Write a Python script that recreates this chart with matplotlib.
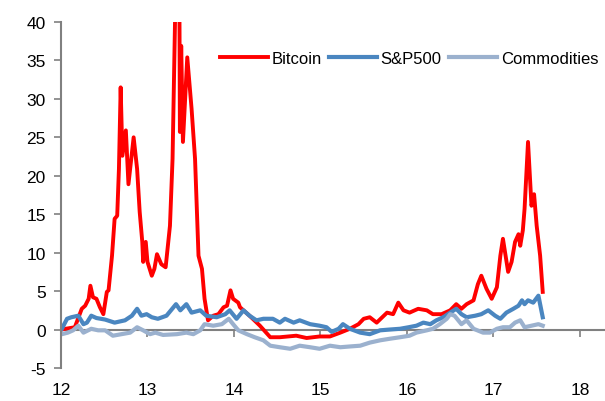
import numpy as np
import matplotlib
matplotlib.use('Agg')
import matplotlib.pyplot as plt

plt.rc('font', family='Liberation Sans', size=12.5)
plt.rc('axes', unicode_minus=False)

# Data (year, value)
btc_x = [12.00, 12.16, 12.24, 12.28, 12.32, 12.34, 12.37, 12.41, 12.45, 12.49, 12.53, 12.55,
         12.59, 12.62, 12.65, 12.67, 12.69, 12.71, 12.75, 12.78, 12.84, 12.88, 12.91, 12.94,
         12.95, 12.98, 13.00, 13.05, 13.08, 13.11, 13.16, 13.21, 13.26, 13.29, 13.32, 13.37,
         13.375, 13.39, 13.41, 13.46, 13.51, 13.55, 13.59, 13.63, 13.66, 13.70, 13.76, 13.82,
         13.88, 13.92, 13.96, 13.99, 14.05, 14.07, 14.18, 14.30, 14.42, 14.53, 14.72, 14.84,
         14.99, 15.11, 15.23, 15.34, 15.44, 15.50, 15.57, 15.65, 15.77, 15.84, 15.90, 15.96,
         16.03, 16.13, 16.23, 16.30, 16.40, 16.50, 16.57, 16.63, 16.69, 16.77, 16.82, 16.86,
         16.92, 16.98, 17.04, 17.08, 17.11, 17.17, 17.21, 17.25, 17.29, 17.31, 17.34, 17.36,
         17.40, 17.44, 17.47, 17.50, 17.54, 17.57]
btc_y = [0.0, 0.3, 2.7, 3.1, 4.0, 5.7, 4.2, 4.0, 2.9, 2.0, 4.9, 5.1,
         9.6, 14.4, 14.8, 20.9, 31.5, 22.6, 25.9, 18.9, 25.0, 20.9, 15.3, 11.4,
         8.8, 11.4, 8.8, 7.0, 7.9, 9.8, 8.5, 8.1, 13.5, 22.2, 41.0, 41.0,
         25.7, 36.9, 24.4, 35.4, 28.7, 22.2, 9.6, 7.9, 4.0, 1.2, 1.8, 2.0,
         2.9, 3.1, 5.1, 4.0, 3.5, 2.9, 1.8, 0.5, -1.0, -1.0, -0.8, -1.1,
         -0.9, -0.9, -0.4, 0.1, 0.7, 1.4, 1.6, 0.9, 2.2, 2.0, 3.5, 2.5,
         2.2, 2.7, 2.5, 2.0, 2.0, 2.5, 3.3, 2.7, 3.3, 3.8, 5.9, 7.0,
         5.3, 4.0, 5.5, 9.6, 11.8, 7.5, 8.8, 11.4, 12.4, 10.9, 12.9, 15.7,
         24.4, 16.1, 17.6, 13.5, 9.6, 4.9]

spx_x = [12.01, 12.07, 12.12, 12.20, 12.26, 12.30, 12.35, 12.41, 12.51, 12.62, 12.74, 12.82,
         12.88, 12.93, 12.99, 13.05, 13.12, 13.22, 13.33, 13.38, 13.45, 13.51, 13.61, 13.68,
         13.80, 13.90, 13.95, 14.03, 14.11, 14.18, 14.26, 14.34, 14.45, 14.53, 14.59, 14.69,
         14.76, 14.88, 14.99, 15.07, 15.13, 15.21, 15.26, 15.34, 15.46, 15.57, 15.69, 15.80,
         15.92, 16.02, 16.11, 16.19, 16.27, 16.34, 16.42, 16.50, 16.57, 16.63, 16.69, 16.79,
         16.86, 16.94, 17.02, 17.08, 17.15, 17.23, 17.29, 17.33, 17.36, 17.40, 17.46, 17.52,
         17.57]
spx_y = [0.1, 1.4, 1.6, 1.8, 0.7, 0.9, 1.8, 1.5, 1.3, 0.9, 1.2, 1.8,
         2.7, 1.8, 2.0, 1.6, 1.4, 1.8, 3.3, 2.5, 3.3, 2.2, 2.5, 1.8,
         1.6, 2.0, 2.5, 1.4, 2.5, 1.8, 1.2, 1.4, 1.4, 0.9, 1.4, 0.9,
         1.2, 0.7, 0.5, 0.3, -0.3, 0.1, 0.7, 0.1, -0.4, -0.6, -0.1, 0.0,
         0.1, 0.3, 0.5, 0.9, 0.7, 1.2, 1.6, 2.2, 2.7, 2.0, 1.6, 1.8,
         2.0, 2.5, 1.8, 1.4, 2.2, 2.7, 3.1, 3.8, 3.3, 3.8, 3.5, 4.4,
         1.6]

com_x = [12.01, 12.08, 12.14, 12.20, 12.26, 12.35, 12.43, 12.51, 12.60, 12.70, 12.80, 12.88,
         12.95, 13.03, 13.09, 13.18, 13.34, 13.45, 13.53, 13.61, 13.66, 13.76, 13.86, 13.94,
         13.99, 14.05, 14.15, 14.24, 14.34, 14.42, 14.53, 14.65, 14.76, 14.88, 14.99, 15.11,
         15.23, 15.34, 15.46, 15.57, 15.69, 15.80, 15.92, 16.03, 16.11, 16.23, 16.30, 16.38,
         16.46, 16.50, 16.55, 16.63, 16.69, 16.77, 16.88, 16.96, 17.04, 17.11, 17.19, 17.25,
         17.31, 17.36, 17.44, 17.52, 17.57]
com_y = [-0.6, -0.4, -0.1, 0.5, -0.4, 0.1, -0.1, -0.1, -0.8, -0.6, -0.4, 0.3,
         -0.1, -0.6, -0.4, -0.7, -0.6, -0.4, -0.6, -0.1, 0.7, 0.5, 0.7, 1.4,
         0.7, -0.1, -0.6, -1.0, -1.4, -2.1, -2.3, -2.5, -2.1, -2.3, -2.5, -2.1,
         -2.3, -2.2, -2.1, -1.7, -1.4, -1.2, -1.0, -0.8, -0.4, -0.1, 0.1, 0.7,
         1.4, 2.0, 1.8, 0.7, 1.2, 0.1, -0.4, -0.4, 0.1, 0.3, 0.3, 0.9,
         1.2, 0.3, 0.5, 0.7, 0.5]

x_ticks = [12, 13, 14, 15, 16, 17, 18]
y_ticks = [-5, 0, 5, 10, 15, 20, 25, 30, 35, 40]

fig = plt.figure(figsize=(6.05, 4.02), dpi=100)
ax = fig.add_axes([0.1008, 0.0821, 0.8992, 0.8607])

ax.plot(btc_x, btc_y, color='#FF0000', lw=2.8, label='Bitcoin', solid_joinstyle='round')
ax.plot(spx_x, spx_y, color='#4A86C0', lw=3.0, label='S&P500', solid_joinstyle='round')
ax.plot(com_x, com_y, color='#9BB1CE', lw=3.0, label='Commodities', solid_joinstyle='round')

ax.set_xlim(12, 18.29)
ax.set_ylim(-5, 40)
ax.set_xticks(x_ticks)
ax.set_yticks(y_ticks)

# axis styling: left spine plus a zero line carrying the year ticks
for s in ['top', 'right']:
    ax.spines[s].set_visible(False)
ax.spines['left'].set_color('#808080')
ax.spines['left'].set_linewidth(1.5)
ax.spines['bottom'].set_position(('data', 0))
ax.spines['bottom'].set_color('#808080')
ax.spines['bottom'].set_linewidth(1.5)
ax.spines['bottom'].set_zorder(0)
ax.tick_params(axis='y', direction='out', length=5, width=1.2, color='#808080', pad=6)
ax.tick_params(axis='x', direction='out', length=5, width=1.2, color='#808080', pad=33)

ax.legend(loc='upper right', ncol=3, frameon=False, bbox_to_anchor=(1.0, 0.935),
          fontsize=12, handlelength=2.9, handletextpad=0.2, columnspacing=0.45,
          borderaxespad=0.0)

fig.savefig('out.png', dpi=100)
